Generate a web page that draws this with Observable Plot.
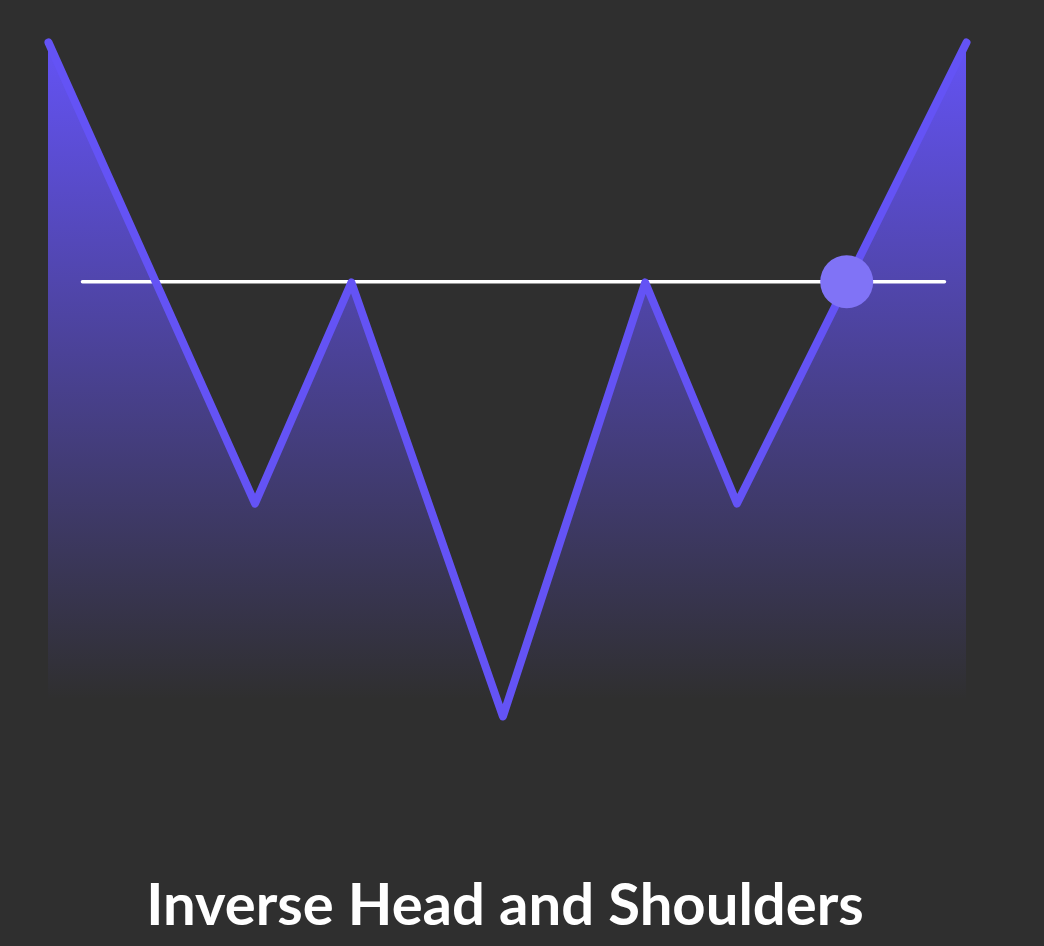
<!DOCTYPE html>
<html>
<head>
<meta charset="utf-8">
<script src="https://cdn.jsdelivr.net/npm/d3@7"></script>
<script src="https://cdn.jsdelivr.net/npm/@observablehq/plot@0.6"></script>
<style>
  html, body { margin: 0; padding: 0; background: #2f2f2f; }
  #chart svg { display: block; }
  #title {
    width: 1010px; text-align: center;
    font-family: Lato, "Noto Sans", sans-serif; font-weight: 700;
    font-size: 58px; line-height: 58px; color: #ffffff;
  }
</style>
</head>
<body>
<div id="chart"></div>
<div id="title">Inverse Head and Shoulders</div>
<script>
// Price path (time index, price level)
const times  = [0, 4.5, 6.6, 9.9, 13.0, 15.0, 20];
const prices = [100, 31.6, 64.4, 0, 64.4, 31.6, 100];
// Neckline
const necklineLevel = 64.5;
const necklineStart = 0.74;
const necklineEnd = 19.52;
// Breakout point
const breakoutTime = 17.39;
const breakoutPrice = 64.5;
// Area baseline
const areaBase = 2.4;

const data = times.map((t, i) => ({t, p: prices[i]}));
const neck = [{t: necklineStart, p: necklineLevel}, {t: necklineEnd, p: necklineLevel}];

const plot = Plot.plot({
  width: 1044,
  height: 874,
  marginLeft: 48,
  marginRight: 78,
  marginTop: 42,
  marginBottom: 158,
  style: {background: "#2f2f2f"},
  x: {domain: [0, 20], axis: null},
  y: {domain: [0, 100], axis: null},
  marks: [
    Plot.areaY(data, {x: "t", y1: areaBase, y2: "p", fill: "url(#areaGrad)"}),
    Plot.lineY(neck, {x: "t", y: "p", stroke: "#ffffff", strokeWidth: 3.5, strokeLinecap: "round"}),
    Plot.lineY(data, {x: "t", y: "p", stroke: "#6453f5", strokeWidth: 8, strokeLinecap: "round", strokeLinejoin: "round"}),
    Plot.dot([{t: breakoutTime, p: breakoutPrice}], {x: "t", y: "p", r: 26.5, fill: "#8073f6", stroke: "none"})
  ]
});

const ys = plot.scale("y");
const ns = "http://www.w3.org/2000/svg";
const defs = document.createElementNS(ns, "defs");
const grad = document.createElementNS(ns, "linearGradient");
grad.setAttribute("id", "areaGrad");
grad.setAttribute("gradientUnits", "userSpaceOnUse");
grad.setAttribute("x1", 0); grad.setAttribute("x2", 0);
grad.setAttribute("y1", ys.apply(100));
grad.setAttribute("y2", ys.apply(areaBase));
[[0, 1], [1, 0]].forEach(([o, a]) => {
  const s = document.createElementNS(ns, "stop");
  s.setAttribute("offset", o);
  s.setAttribute("stop-color", "#6453f5");
  s.setAttribute("stop-opacity", a);
  grad.appendChild(s);
});
defs.appendChild(grad);
plot.insertBefore(defs, plot.firstChild);
document.getElementById("chart").appendChild(plot);
</script>
</body>
</html>
